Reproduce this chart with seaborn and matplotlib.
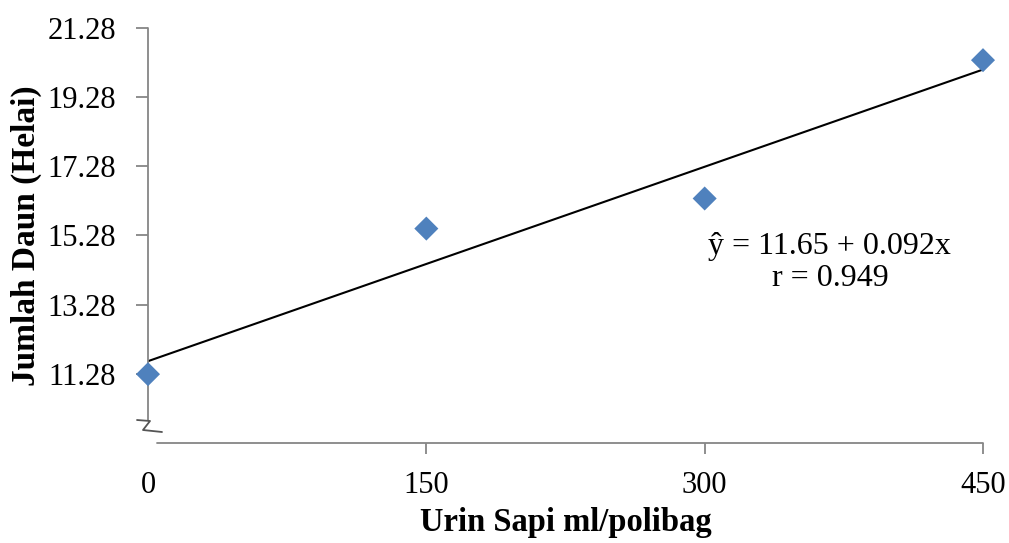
import numpy as np
import pandas as pd
import seaborn as sns
import matplotlib
matplotlib.use("Agg")
import matplotlib.pyplot as plt

# Data
dose = [0, 150, 300, 450]              # Urin Sapi ml/polibag
leaves = [11.27, 15.48, 16.35, 20.35]  # Jumlah Daun (Helai)
yticks = [11.28, 13.28, 15.28, 17.28, 19.28, 21.28]
xticklabels_all = [0, 150, 300, 450]
equation = "ŷ = 11.65 + 0.092x\nr = 0.949"

df = pd.DataFrame({"dose": dose, "leaves": leaves})

sns.set_theme(style="white")
plt.rcParams["font.family"] = ["Liberation Serif", "DejaVu Serif"]
plt.rcParams["text.color"] = "black"
plt.rcParams["axes.labelcolor"] = "black"
plt.rcParams["xtick.color"] = "black"
plt.rcParams["ytick.color"] = "black"

W, H = 1009, 543
fig = plt.figure(figsize=(W / 100, H / 100), dpi=100)
L, R, T, B = 148, 983, 28, 443
ax = fig.add_axes([L / W, 1 - B / H, (R - L) / W, (B - T) / H])

gray = "#868686"
blue = "#4F81BD"

sns.regplot(data=df, x="dose", y="leaves", ax=ax, scatter=False, ci=None,
            line_kws=dict(color="black", lw=1.5, zorder=2))
sns.scatterplot(data=df, x="dose", y="leaves", ax=ax, marker="D", s=150,
                color=blue, edgecolor="none", zorder=3, clip_on=False)

ax.set_xlim(0, 450)
ax.set_ylim(9.28, 21.28)

for s in ax.spines.values():
    s.set_visible(False)

# manual axis lines with break
ax_w, ax_h = R - L, B - T
def ac(px, py):
    return ((px - L) / ax_w, (B - py) / ax_h)

x0, y0 = ac(148, 420)
ax.plot([0, 0], [1, y0], transform=ax.transAxes, color=gray, lw=1.3, clip_on=False)
xs, ys = zip(*[ac(137, 420), ac(150, 421), ac(143, 430), ac(162, 432)])
ax.plot(xs, ys, transform=ax.transAxes, color="#555555", lw=1.3, clip_on=False)
xb, _ = ac(157, 443)
ax.plot([xb, 1], [0, 0], transform=ax.transAxes, color=gray, lw=1.3, clip_on=False)

ax.set_yticks(yticks)
ax.set_yticklabels([f"{v:.2f}" for v in yticks])
ax.set_xticks(xticklabels_all)
ax.set_xticklabels([str(v) for v in xticklabels_all])
ax.tick_params(axis="y", direction="out", length=9, width=1.3, color=gray,
               labelcolor="black", labelsize=22, pad=14, left=True)
ax.tick_params(axis="x", direction="out", length=8, width=1.3, color=gray,
               labelcolor="black", labelsize=22, pad=12, bottom=True)
# hide tick mark at x=0 (the break)
ax.xaxis.get_major_ticks()[0].tick1line.set_visible(False)

ax.set_xlabel("Urin Sapi ml/polibag", fontsize=23.5, fontweight="bold",
              labelpad=5, color="black")
ax.set_ylabel("Jumlah Daun (Helai)", fontsize=24, fontweight="bold",
              labelpad=4, color="black")

ax.text(367.5, 14.5, equation, fontsize=23, ha="center", va="center",
        linespacing=1.15, color="black")

fig.savefig("out.png", dpi=100)
